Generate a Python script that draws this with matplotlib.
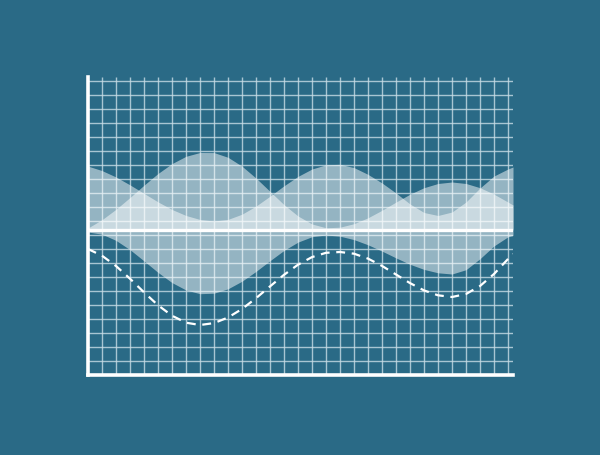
import numpy as np
import matplotlib
matplotlib.use("Agg")
import matplotlib.pyplot as plt

# x positions along the chart (one per grid column, last one is the right edge)
x_pos = [0, 14, 28, 42, 56, 70, 84, 98, 112, 126, 140, 154, 168, 182, 196, 210,
         224, 238, 252, 266, 280, 294, 308, 322, 336, 350, 364, 378, 392, 406, 420, 425]

# big wave band (top edge / bottom edge)
band_a_top = [147, 155.3, 165.7, 177.5, 189.8, 201.5, 211.4, 218.7, 222.5, 222.4, 217.7,
              208.8, 196.9, 183.6, 170.3, 159.0, 151.0, 147.2, 147.8, 151.3, 157.2, 164.7,
              172.9, 180.8, 187.3, 191.5, 193, 191.5, 187.3, 180.8, 172.9, 170]
band_a_bottom = [143, 140.8, 134.6, 125.3, 114.1, 102.6, 92.4, 85.0, 81.3, 81.8, 86.2,
                 93.8, 103.6, 114.3, 124.6, 132.9, 138.3, 140, 138.8, 135.4, 130.2, 123.9,
                 117.1, 110.7, 105.6, 102.2, 101, 105.3, 116.3, 129.1, 138.2, 139.5]

# second wave band, sits on the middle line
band_b_top = [208.9, 204.4, 198.0, 190.1, 181.6, 173.1, 165.5, 159.5, 155.5, 154, 155.6,
              160.8, 168.9, 178.8, 189.2, 198.6, 206, 210.2, 210.7, 207.4, 200.6, 192,
              182, 171, 162.5, 159.5, 163, 173, 187, 199, 206, 208]

# dashed wave below the middle line
dashed_wave = [126, 119.3, 109, 96.3, 82.7, 69.8, 59.3, 52.3, 50, 51.9, 57.5, 66, 76.8,
               88.6, 100.2, 110.3, 117.9, 122.2, 123, 121.3, 116.4, 109.1, 100.5, 91.9,
               84.6, 79.7, 78, 81, 89, 101, 116, 121]

middle_level = 145
grid_x = [14 * k for k in range(1, 31)]
grid_y = [14 * k for k in range(1, 22)]

bg = "#2a6a86"

fig = plt.figure(figsize=(6, 4.56), dpi=100)
fig.patch.set_facecolor(bg)
ax = fig.add_axes([88 / 600, 80 / 456, 425 / 600, 298 / 456])
ax.set_facecolor(bg)
ax.set_xlim(0, 425)
ax.set_ylim(0, 298)

# grid
ax.vlines(grid_x, 0, 298, colors="#c9dde6", linewidth=1.0, alpha=0.8, zorder=1)
ax.hlines(grid_y, 0, 425, colors="#c9dde6", linewidth=1.0, alpha=0.8, zorder=1)

# translucent bands
ax.fill_between(x_pos, band_a_bottom, band_a_top, color="white", alpha=0.5,
                linewidth=0, zorder=2)
ax.fill_between(x_pos, middle_level, band_b_top, color="white", alpha=0.5,
                linewidth=0, zorder=2)

# middle line
ax.axhline(middle_level, color="white", linewidth=2.4, zorder=3)

# dashed wave
ax.plot(x_pos, dashed_wave, color="white", linewidth=1.6, linestyle=(0, (4, 3)),
        zorder=3)

for side in ["top", "right"]:
    ax.spines[side].set_visible(False)
for side in ["left", "bottom"]:
    ax.spines[side].set_color("white")
    ax.spines[side].set_linewidth(2.6)
    ax.spines[side].set_zorder(4)
ax.set_xticks([])
ax.set_yticks([])

fig.savefig("out.png", dpi=100, facecolor=bg)
